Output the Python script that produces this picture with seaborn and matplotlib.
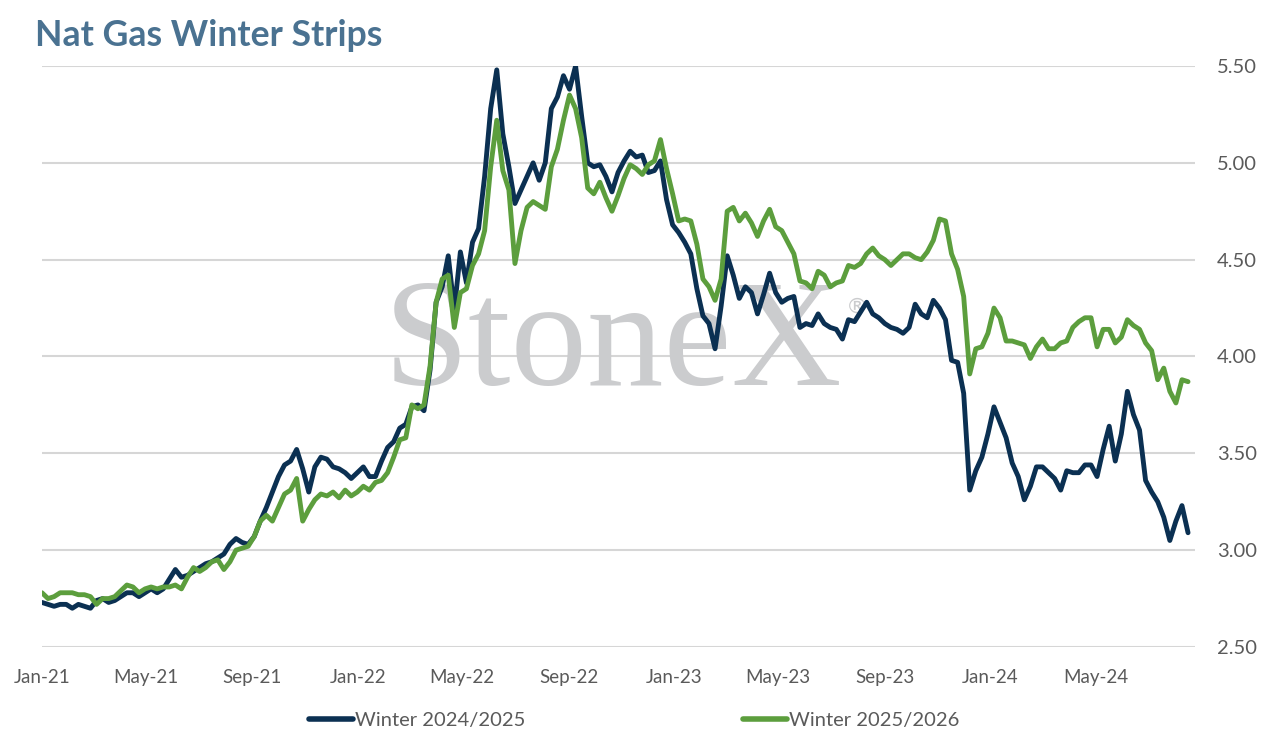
import numpy as np
import pandas as pd
import matplotlib
matplotlib.use("Agg")
import matplotlib.pyplot as plt
import matplotlib.dates as mdates
import seaborn as sns

# weekly readings, Jan 2021 - Aug 2024
dates = pd.date_range("2021-01-01", periods=190, freq="7D")

winter_24_25 = [
    2.73, 2.72, 2.71, 2.72, 2.72, 2.70, 2.72, 2.71, 2.70, 2.74,
    2.75, 2.73, 2.74, 2.76, 2.78, 2.78, 2.76, 2.78, 2.80, 2.78,
    2.80, 2.85, 2.90, 2.86, 2.87, 2.89, 2.91, 2.93, 2.94, 2.96,
    2.98, 3.03, 3.06, 3.04, 3.03, 3.07, 3.15, 3.22, 3.30, 3.38,
    3.44, 3.46, 3.52, 3.42, 3.30, 3.43, 3.48, 3.47, 3.43, 3.42,
    3.40, 3.37, 3.40, 3.43, 3.38, 3.38, 3.46, 3.53, 3.56, 3.63,
    3.65, 3.74, 3.75, 3.72, 3.93, 4.28, 4.36, 4.52, 4.24, 4.54,
    4.38, 4.59, 4.66, 4.93, 5.28, 5.48, 5.15, 4.98, 4.79, 4.86,
    4.93, 5.00, 4.91, 5.00, 5.28, 5.34, 5.45, 5.38, 5.50, 5.24,
    5.00, 4.98, 4.99, 4.93, 4.85, 4.95, 5.01, 5.06, 5.03, 5.04,
    4.95, 4.96, 5.01, 4.81, 4.68, 4.64, 4.59, 4.53, 4.35, 4.21,
    4.17, 4.04, 4.26, 4.52, 4.42, 4.30, 4.36, 4.33, 4.22, 4.32,
    4.43, 4.33, 4.28, 4.30, 4.31, 4.15, 4.17, 4.16, 4.22, 4.17,
    4.15, 4.14, 4.09, 4.19, 4.18, 4.23, 4.28, 4.22, 4.20, 4.17,
    4.15, 4.14, 4.12, 4.15, 4.27, 4.22, 4.20, 4.29, 4.25, 4.19,
    3.98, 3.97, 3.81, 3.31, 3.41, 3.48, 3.60, 3.74, 3.66, 3.58,
    3.45, 3.38, 3.26, 3.33, 3.43, 3.43, 3.40, 3.37, 3.31, 3.41,
    3.40, 3.40, 3.44, 3.44, 3.38, 3.52, 3.64, 3.46, 3.60, 3.82,
    3.70, 3.62, 3.36, 3.30, 3.25, 3.17, 3.05, 3.15, 3.23, 3.09,
]

winter_25_26 = [
    2.78, 2.75, 2.76, 2.78, 2.78, 2.78, 2.77, 2.77, 2.76, 2.72,
    2.75, 2.75, 2.76, 2.79, 2.82, 2.81, 2.78, 2.80, 2.81, 2.80,
    2.81, 2.81, 2.82, 2.80, 2.86, 2.91, 2.89, 2.91, 2.94, 2.95,
    2.90, 2.94, 3.00, 3.01, 3.02, 3.07, 3.15, 3.18, 3.15, 3.22,
    3.29, 3.31, 3.37, 3.15, 3.21, 3.26, 3.29, 3.28, 3.30, 3.27,
    3.31, 3.28, 3.30, 3.33, 3.31, 3.35, 3.36, 3.40, 3.48, 3.57,
    3.58, 3.75, 3.73, 3.75, 3.95, 4.28, 4.40, 4.42, 4.15, 4.33,
    4.35, 4.47, 4.53, 4.65, 4.98, 5.22, 4.96, 4.86, 4.48, 4.65,
    4.77, 4.80, 4.78, 4.76, 4.98, 5.07, 5.22, 5.35, 5.28, 5.13,
    4.87, 4.84, 4.90, 4.82, 4.75, 4.83, 4.92, 4.99, 4.97, 4.94,
    4.99, 5.01, 5.12, 4.97, 4.84, 4.70, 4.71, 4.70, 4.58, 4.40,
    4.36, 4.29, 4.40, 4.75, 4.77, 4.70, 4.74, 4.69, 4.62, 4.70,
    4.76, 4.67, 4.65, 4.59, 4.53, 4.39, 4.38, 4.35, 4.44, 4.42,
    4.36, 4.38, 4.39, 4.47, 4.46, 4.48, 4.53, 4.56, 4.52, 4.50,
    4.47, 4.50, 4.53, 4.53, 4.51, 4.50, 4.54, 4.60, 4.71, 4.70,
    4.53, 4.45, 4.31, 3.91, 4.04, 4.05, 4.12, 4.25, 4.20, 4.08,
    4.08, 4.07, 4.06, 3.99, 4.05, 4.09, 4.04, 4.04, 4.07, 4.08,
    4.15, 4.18, 4.20, 4.20, 4.05, 4.14, 4.14, 4.07, 4.10, 4.19,
    4.16, 4.14, 4.07, 4.03, 3.88, 3.94, 3.82, 3.76, 3.88, 3.87,
]

series_names = ["Winter 2024/2025", "Winter 2025/2026"]
y_ticks = [2.50, 3.00, 3.50, 4.00, 4.50, 5.00, 5.50]

df = pd.DataFrame({"date": dates, series_names[0]: winter_24_25, series_names[1]: winter_25_26})
long_df = df.melt(id_vars="date", var_name="series", value_name="price")

sns.set_theme(style="white")
plt.rcParams["font.family"] = ["Lato", "DejaVu Sans"]

navy = "#0b3052"
green = "#5c9e3d"

fig = plt.figure(figsize=(12.68, 7.40), dpi=100)
ax = fig.add_axes([0.0331, 0.1257, 0.9093, 0.7851])

# watermark
ax.text(0.495, 0.451, "StoneX", transform=ax.transAxes, ha="center", va="baseline",
        fontsize=110, family="Liberation Serif", color="#cbccce", zorder=1)
ax.text(0.707, 0.585, "®", transform=ax.transAxes, ha="center", va="center",
        fontsize=16, color="#cbccce", zorder=1)

sns.lineplot(data=long_df, x="date", y="price", hue="series",
             palette=[navy, green], linewidth=3.5, ax=ax, legend=False, zorder=3)

ax.set_xlim(pd.Timestamp("2021-01-01"), pd.Timestamp("2024-08-24"))
ax.set_ylim(2.50, 5.50)
ax.set_yticks(y_ticks)
ax.set_yticklabels([f"{v:.2f}" for v in y_ticks])
ax.yaxis.tick_right()
ax.xaxis.set_major_locator(mdates.MonthLocator(bymonth=[1, 5, 9]))
ax.xaxis.set_major_formatter(mdates.DateFormatter("%b-%y"))
ax.tick_params(axis="both", length=0, labelcolor="#5a5a5a")
ax.tick_params(axis="x", pad=16, labelsize=13.5)
ax.tick_params(axis="y", pad=16, labelsize=14.5)
ax.set_xlabel("")
ax.set_ylabel("")
ax.grid(axis="y", color="#d6d6d6", linewidth=1.5, zorder=0)
ax.grid(axis="x", visible=False)
for s in ax.spines.values():
    s.set_visible(False)

fig.text(0.0276, 0.938, "Nat Gas Winter Strips", fontsize=25.7, fontweight="bold",
         color="#4a7291", ha="left", va="baseline")

handles = [plt.Line2D([], [], color=navy, lw=4), plt.Line2D([], [], color=green, lw=4)]
fig.legend(handles, series_names, loc="center", bbox_to_anchor=(0.5, 0.027), ncol=2,
           frameon=False, fontsize=14.5, handlelength=2.2, handletextpad=0.1,
           columnspacing=10.8, labelcolor="#5a5a5a")

fig.savefig("out.png", dpi=100)
